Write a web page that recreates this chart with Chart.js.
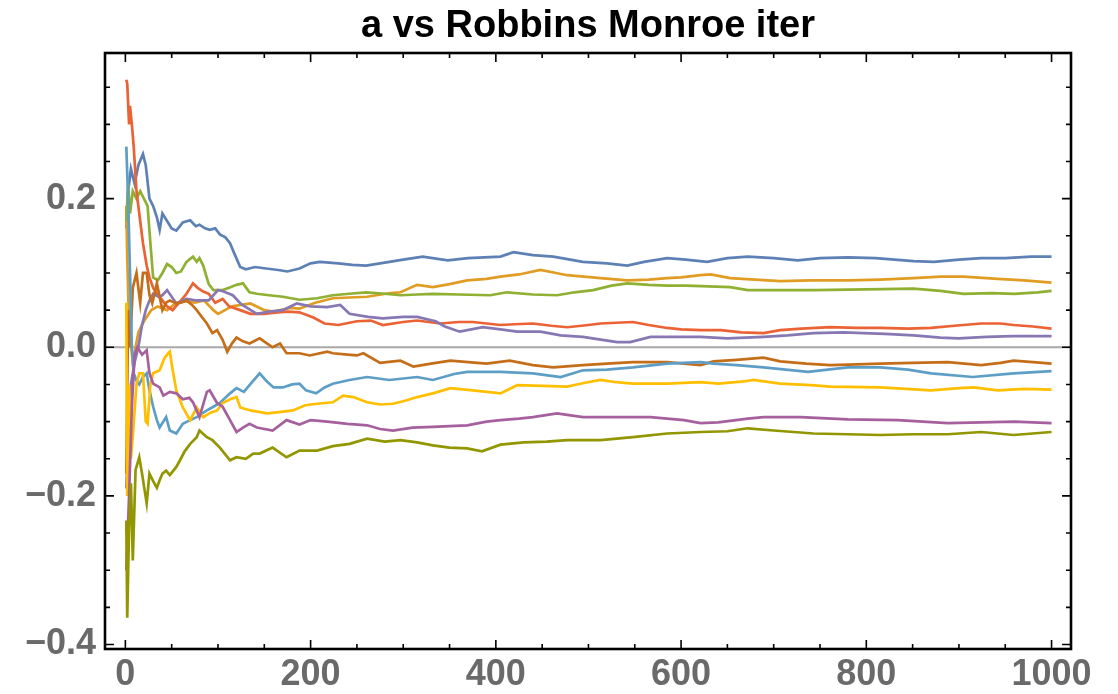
<!DOCTYPE html>
<html>
<head>
<meta charset="utf-8">
<title>a vs Robbins Monroe iter</title>
<script src="https://cdn.jsdelivr.net/npm/chart.js@4.4.1/dist/chart.umd.min.js"></script>
<style>
  html, body { margin: 0; padding: 0; background: #fff; }
  #wrap { width: 1118px; height: 694px; }
</style>
</head>
<body>
<div id="wrap"><canvas id="chart" width="1118" height="694"></canvas></div>
<script>
// Estimates of a per Robbins-Monro iteration, [iter, a] pairs for each run
const runBlue = [[1, 0.16], [3, 0.21], [6, 0.24], [10, 0.22], [14, 0.245], [19, 0.26], [22, 0.245], [26, 0.2], [30, 0.19], [34, 0.175], [37, 0.158], [40, 0.18], [44, 0.172], [50, 0.16], [55, 0.157], [62, 0.168], [70, 0.171], [76, 0.163], [80, 0.165], [86, 0.16], [91, 0.158], [97, 0.16], [102, 0.152], [108, 0.148], [113, 0.14], [118, 0.125], [124, 0.108], [130, 0.105], [140, 0.108], [152, 0.106], [165, 0.104], [175, 0.102], [188, 0.106], [200, 0.113], [210, 0.115], [230, 0.113], [245, 0.111], [260, 0.11], [280, 0.114], [300, 0.118], [321, 0.122], [348, 0.117], [370, 0.12], [405, 0.122], [419, 0.128], [440, 0.124], [462, 0.122], [494, 0.115], [520, 0.113], [542, 0.11], [560, 0.115], [585, 0.12], [605, 0.118], [628, 0.115], [650, 0.12], [672, 0.122], [700, 0.12], [726, 0.117], [750, 0.12], [780, 0.121], [810, 0.12], [851, 0.116], [873, 0.115], [900, 0.118], [924, 0.12], [950, 0.12], [978, 0.122], [1000, 0.122]];

const runOrange = [[1, 0.19], [2, 0.12], [4, 0.03], [8, -0.02], [14, 0.02], [20, 0.035], [28, 0.05], [35, 0.055], [45, 0.05], [55, 0.06], [65, 0.062], [75, 0.06], [85, 0.063], [95, 0.05], [100, 0.045], [115, 0.055], [135, 0.059], [150, 0.05], [160, 0.048], [178, 0.053], [188, 0.052], [205, 0.06], [224, 0.066], [242, 0.067], [261, 0.068], [286, 0.073], [297, 0.074], [315, 0.084], [332, 0.081], [350, 0.085], [369, 0.09], [390, 0.092], [405, 0.095], [425, 0.098], [448, 0.104], [465, 0.1], [477, 0.097], [495, 0.095], [513, 0.093], [542, 0.09], [565, 0.091], [585, 0.093], [600, 0.094], [621, 0.097], [632, 0.098], [653, 0.093], [680, 0.091], [707, 0.089], [740, 0.09], [780, 0.09], [815, 0.091], [851, 0.093], [880, 0.095], [905, 0.095], [942, 0.092], [970, 0.09], [1000, 0.087]];

const runGreen = [[1, 0.17], [3, 0.22], [5, 0.18], [8, 0.21], [12, 0.2], [16, 0.21], [20, 0.2], [24, 0.19], [27, 0.14], [30, 0.094], [35, 0.09], [40, 0.1], [45, 0.112], [50, 0.108], [55, 0.1], [60, 0.102], [66, 0.115], [73, 0.122], [77, 0.115], [80, 0.12], [84, 0.11], [90, 0.085], [95, 0.077], [105, 0.077], [112, 0.08], [120, 0.084], [127, 0.086], [134, 0.074], [142, 0.072], [155, 0.07], [170, 0.068], [188, 0.064], [207, 0.066], [224, 0.07], [242, 0.072], [260, 0.074], [280, 0.072], [297, 0.07], [315, 0.071], [332, 0.072], [360, 0.071], [394, 0.07], [412, 0.074], [440, 0.071], [466, 0.07], [485, 0.074], [505, 0.077], [525, 0.083], [542, 0.086], [565, 0.084], [585, 0.083], [605, 0.083], [630, 0.082], [653, 0.081], [672, 0.077], [700, 0.077], [743, 0.077], [800, 0.078], [851, 0.079], [880, 0.076], [905, 0.072], [935, 0.073], [960, 0.072], [985, 0.074], [1000, 0.076]];

const runRed = [[1, 0.36], [2, 0.355], [4, 0.3], [5, 0.325], [7, 0.3], [9, 0.27], [12, 0.21], [15, 0.18], [19, 0.14], [23, 0.11], [26, 0.094], [30, 0.08], [35, 0.07], [40, 0.063], [45, 0.055], [51, 0.05], [58, 0.06], [66, 0.072], [73, 0.086], [78, 0.08], [84, 0.075], [90, 0.072], [97, 0.06], [105, 0.065], [112, 0.055], [124, 0.05], [135, 0.045], [150, 0.045], [164, 0.047], [175, 0.048], [188, 0.047], [203, 0.04], [215, 0.032], [230, 0.03], [250, 0.035], [265, 0.036], [278, 0.03], [300, 0.034], [315, 0.036], [340, 0.032], [360, 0.034], [375, 0.034], [405, 0.03], [420, 0.031], [440, 0.032], [460, 0.029], [477, 0.027], [500, 0.03], [513, 0.032], [530, 0.033], [548, 0.034], [565, 0.03], [585, 0.026], [600, 0.024], [621, 0.023], [643, 0.023], [665, 0.02], [689, 0.019], [707, 0.023], [730, 0.025], [761, 0.027], [790, 0.026], [815, 0.026], [845, 0.025], [870, 0.026], [895, 0.029], [924, 0.032], [945, 0.032], [959, 0.03], [980, 0.028], [1000, 0.025]];

const runPurple = [[1, -0.19], [3, -0.12], [6, -0.05], [10, -0.02], [14, 0.0], [18, 0.03], [22, 0.05], [26, 0.063], [30, 0.072], [36, 0.068], [40, 0.07], [45, 0.077], [50, 0.068], [55, 0.059], [66, 0.065], [77, 0.063], [90, 0.063], [100, 0.077], [106, 0.075], [116, 0.07], [125, 0.058], [142, 0.045], [155, 0.048], [170, 0.05], [185, 0.059], [200, 0.055], [218, 0.054], [232, 0.057], [242, 0.045], [262, 0.041], [278, 0.039], [300, 0.041], [315, 0.041], [335, 0.035], [345, 0.028], [361, 0.021], [386, 0.027], [405, 0.024], [423, 0.021], [448, 0.021], [470, 0.016], [494, 0.014], [515, 0.01], [531, 0.007], [545, 0.007], [567, 0.014], [600, 0.014], [621, 0.014], [650, 0.012], [689, 0.014], [715, 0.016], [743, 0.019], [775, 0.02], [797, 0.019], [820, 0.018], [851, 0.016], [880, 0.013], [900, 0.012], [930, 0.014], [958, 0.015], [1000, 0.015]];

const runBrown = [[1, -0.17], [3, 0.05], [5, 0.0], [8, 0.08], [12, 0.1], [16, 0.06], [19, 0.1], [23, 0.1], [26, 0.07], [29, 0.059], [34, 0.086], [40, 0.05], [44, 0.06], [48, 0.063], [55, 0.059], [60, 0.06], [66, 0.063], [72, 0.057], [77, 0.05], [83, 0.04], [88, 0.032], [94, 0.019], [99, 0.023], [105, 0.01], [110, -0.006], [115, 0.005], [120, 0.013], [127, 0.008], [134, 0.005], [145, 0.012], [152, 0.006], [159, 0.0], [167, 0.005], [174, -0.008], [188, -0.008], [199, -0.011], [218, -0.006], [224, -0.008], [240, -0.01], [250, -0.011], [257, -0.008], [275, -0.021], [282, -0.02], [297, -0.018], [311, -0.026], [330, -0.022], [351, -0.018], [370, -0.02], [390, -0.022], [415, -0.018], [440, -0.024], [462, -0.027], [494, -0.024], [520, -0.022], [548, -0.02], [585, -0.02], [621, -0.024], [635, -0.019], [660, -0.017], [689, -0.014], [707, -0.019], [735, -0.022], [761, -0.024], [790, -0.023], [815, -0.022], [850, -0.021], [888, -0.02], [924, -0.024], [945, -0.021], [959, -0.018], [980, -0.02], [1000, -0.022]];

const runSky = [[1, 0.27], [3, 0.2], [5, 0.1], [7, 0.0], [9, -0.035], [12, -0.045], [15, -0.05], [19, -0.04], [23, -0.035], [26, -0.058], [30, -0.08], [34, -0.098], [37, -0.108], [44, -0.094], [48, -0.112], [55, -0.116], [62, -0.103], [70, -0.098], [77, -0.094], [88, -0.085], [95, -0.08], [102, -0.075], [113, -0.062], [120, -0.055], [128, -0.06], [134, -0.051], [145, -0.035], [152, -0.045], [160, -0.054], [170, -0.054], [180, -0.05], [188, -0.049], [195, -0.058], [206, -0.062], [215, -0.054], [224, -0.049], [242, -0.044], [261, -0.04], [285, -0.044], [315, -0.04], [332, -0.044], [355, -0.036], [369, -0.033], [405, -0.033], [440, -0.035], [470, -0.04], [494, -0.031], [520, -0.03], [548, -0.027], [585, -0.022], [621, -0.02], [635, -0.022], [660, -0.024], [689, -0.027], [737, -0.033], [780, -0.027], [815, -0.027], [845, -0.03], [870, -0.035], [915, -0.04], [959, -0.035], [1000, -0.032]];

const runYellow = [[1, 0.06], [2, -0.2], [4, -0.05], [6, -0.15], [8, -0.12], [12, -0.05], [15, -0.035], [19, -0.035], [22, -0.1], [24, -0.103], [27, -0.05], [30, -0.035], [37, -0.031], [42, -0.015], [45, -0.01], [48, -0.006], [51, -0.03], [55, -0.058], [62, -0.081], [70, -0.098], [77, -0.081], [84, -0.094], [92, -0.088], [99, -0.085], [105, -0.075], [113, -0.07], [120, -0.067], [124, -0.081], [135, -0.085], [153, -0.089], [168, -0.087], [181, -0.085], [194, -0.078], [207, -0.076], [224, -0.074], [235, -0.065], [246, -0.067], [261, -0.074], [275, -0.077], [289, -0.076], [302, -0.072], [315, -0.067], [332, -0.062], [351, -0.055], [375, -0.058], [405, -0.062], [423, -0.051], [450, -0.052], [477, -0.053], [495, -0.048], [513, -0.044], [530, -0.047], [548, -0.049], [585, -0.049], [621, -0.047], [640, -0.049], [668, -0.046], [678, -0.044], [707, -0.049], [740, -0.051], [761, -0.053], [815, -0.054], [870, -0.058], [900, -0.055], [916, -0.054], [942, -0.058], [970, -0.056], [1000, -0.057]];

const runMagenta = [[1, -0.3], [4, -0.2], [7, -0.08], [10, -0.01], [13, 0.0], [18, -0.01], [23, -0.004], [26, -0.035], [30, -0.049], [37, -0.054], [41, -0.065], [48, -0.06], [55, -0.062], [62, -0.07], [69, -0.068], [73, -0.074], [80, -0.094], [88, -0.06], [91, -0.058], [99, -0.075], [105, -0.08], [113, -0.098], [120, -0.114], [127, -0.108], [134, -0.103], [142, -0.108], [159, -0.112], [174, -0.098], [188, -0.104], [200, -0.098], [218, -0.1], [240, -0.103], [261, -0.105], [275, -0.11], [289, -0.112], [310, -0.108], [332, -0.107], [350, -0.106], [369, -0.105], [390, -0.1], [405, -0.098], [425, -0.096], [440, -0.094], [466, -0.089], [494, -0.094], [530, -0.094], [567, -0.094], [603, -0.098], [621, -0.102], [640, -0.101], [672, -0.096], [689, -0.094], [729, -0.094], [780, -0.097], [834, -0.098], [888, -0.102], [924, -0.101], [960, -0.1], [1000, -0.102]];

const runOlive = [[1, -0.233], [2, -0.364], [4, -0.242], [6, -0.183], [8, -0.287], [11, -0.165], [15, -0.148], [18, -0.17], [23, -0.21], [26, -0.17], [30, -0.18], [34, -0.189], [37, -0.179], [40, -0.17], [44, -0.166], [48, -0.172], [55, -0.161], [59, -0.152], [64, -0.14], [70, -0.13], [77, -0.121], [80, -0.112], [88, -0.121], [94, -0.125], [102, -0.135], [113, -0.152], [120, -0.148], [130, -0.15], [138, -0.143], [145, -0.143], [159, -0.135], [174, -0.148], [188, -0.139], [207, -0.139], [224, -0.133], [242, -0.13], [261, -0.123], [280, -0.127], [297, -0.125], [315, -0.128], [332, -0.132], [350, -0.135], [369, -0.136], [385, -0.14], [405, -0.131], [430, -0.128], [455, -0.127], [477, -0.125], [513, -0.125], [548, -0.121], [585, -0.116], [621, -0.114], [650, -0.113], [672, -0.109], [700, -0.112], [743, -0.116], [780, -0.117], [815, -0.118], [850, -0.117], [888, -0.117], [924, -0.114], [959, -0.118], [1000, -0.114]];

const runs = [runBlue, runOrange, runGreen, runRed, runPurple, runBrown, runSky, runYellow, runMagenta, runOlive];
const runColors = ['#5E81B5', '#E19C24', '#8FB032', '#EB6235', '#8778B3', '#C56E1A', '#5D9EC7', '#FFBF00', '#A5609D', '#929600'];

// Tick positions
const xLabelTicks = [0, 200, 400, 600, 800, 1000];
const yLabelTicks = [-0.4, -0.2, 0, 0.2];
const xMinorStep = 50;
const yMinorStep = 0.05;

const labelFont = { family: "'Liberation Sans', Arial, sans-serif", size: 36, weight: 'bold', lineHeight: 1.2 };

// Frame with inward ticks on all four sides, plus the gray zero axis
const framePlugin = {
    id: 'frame',
    beforeDatasetsDraw(chart) {
        const { ctx, chartArea: a, scales: { y } } = chart;
        const y0 = y.getPixelForValue(0);
        ctx.save();
        ctx.strokeStyle = '#a8a8a8';
        ctx.lineWidth = 2;
        ctx.beginPath();
        ctx.moveTo(a.left, y0);
        ctx.lineTo(a.right, y0);
        ctx.stroke();
        ctx.restore();
    },
    afterDatasetsDraw(chart) {
        const { ctx, chartArea: a, scales: { x, y } } = chart;
        ctx.save();
        ctx.strokeStyle = '#000';
        ctx.lineWidth = 1.6;
        ctx.beginPath();
        // x ticks, bottom and top
        for (let v = 0; v <= x.max; v += xMinorStep) {
            const px = x.getPixelForValue(v);
            const len = v % 200 === 0 ? 9 : 5;
            ctx.moveTo(px, a.bottom); ctx.lineTo(px, a.bottom - len);
            ctx.moveTo(px, a.top); ctx.lineTo(px, a.top + len);
        }
        // y ticks, left and right
        for (let i = Math.ceil(y.min / yMinorStep); i * yMinorStep <= y.max; i++) {
            const py = y.getPixelForValue(i * yMinorStep);
            const len = i % 4 === 0 ? 9 : 5;
            ctx.moveTo(a.left, py); ctx.lineTo(a.left + len, py);
            ctx.moveTo(a.right, py); ctx.lineTo(a.right - len, py);
        }
        ctx.stroke();
        ctx.lineWidth = 2.6;
        ctx.strokeRect(a.left, a.top, a.right - a.left, a.bottom - a.top);
        ctx.restore();
    }
};

const datasets = runs.map((run, i) => ({
    data: run.map(([iter, a]) => ({ x: iter, y: a })),
    borderColor: runColors[i],
    borderWidth: 2.7,
    pointRadius: 0,
    tension: 0,
    order: runs.length - i
}));

new Chart(document.getElementById('chart'), {
    type: 'line',
    data: { datasets },
    plugins: [framePlugin],
    options: {
        responsive: false,
        animation: false,
        devicePixelRatio: 1,
        layout: { padding: { left: 0, right: 47, top: 0, bottom: 0 } },
        plugins: {
            legend: { display: false },
            tooltip: { enabled: false },
            title: {
                display: true,
                fullSize: false,
                text: 'a vs Robbins Monroe iter',
                color: '#000',
                font: { family: "'Liberation Sans', Arial, sans-serif", size: 38, weight: 'bold', lineHeight: 1.2 },
                padding: { top: 4, bottom: 3.4 }
            }
        },
        scales: {
            x: {
                type: 'linear',
                min: -22,
                max: 1021,
                grid: { display: false, drawTicks: false },
                border: { display: false },
                ticks: { color: '#6a6a6a', font: labelFont, padding: 4, maxRotation: 0, callback: v => String(v) },
                afterBuildTicks: scale => { scale.ticks = xLabelTicks.map(value => ({ value })); },
                afterFit: scale => { scale.height = 45; scale.paddingLeft = 0; scale.paddingRight = 0; }
            },
            y: {
                min: -0.406,
                max: 0.396,
                grid: { display: false, drawTicks: false },
                border: { display: false },
                ticks: {
                    color: '#6a6a6a',
                    font: labelFont,
                    padding: 9,
                    callback: v => (v < -1e-9 ? '\u2212' : '') + Math.abs(v).toFixed(1)
                },
                afterBuildTicks: scale => { scale.ticks = yLabelTicks.map(value => ({ value })); },
                afterFit: scale => { scale.width = 105; scale.paddingTop = 0; scale.paddingBottom = 0; }
            }
        }
    }
});
</script>
</body>
</html>
